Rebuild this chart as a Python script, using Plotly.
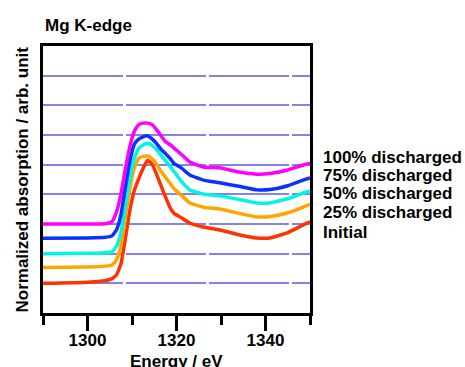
import plotly.graph_objects as go

# ---- data ----
energy = [1290, 1300, 1304, 1305.5, 1306.5, 1307.5, 1308.5, 1309.5, 1310.5, 1311.5,
          1312.5, 1313.5, 1314.5, 1315.5, 1316.5, 1317.5, 1318.5, 1319.5, 1321, 1323,
          1326, 1330, 1334, 1338, 1341, 1345, 1348.5, 1350]

initial = [1.00, 1.04, 1.09, 1.16, 1.28, 1.65, 2.50, 3.45, 4.12, 4.52,
           4.88, 5.15, 5.02, 4.68, 4.30, 3.92, 3.57, 3.35, 3.22, 3.03,
           2.90, 2.79, 2.64, 2.53, 2.53, 2.71, 2.97, 3.07]

dis25 = [1.53, 1.55, 1.58, 1.62, 1.78, 2.28, 3.20, 4.20, 4.88, 5.22,
         5.28, 5.29, 5.20, 5.02, 4.78, 4.58, 4.38, 4.18, 3.98, 3.71,
         3.57, 3.50, 3.36, 3.24, 3.25, 3.38, 3.57, 3.67]

dis50 = [2.00, 2.01, 2.03, 2.06, 2.25, 2.70, 3.60, 4.55, 5.20, 5.55,
         5.66, 5.72, 5.65, 5.52, 5.32, 5.14, 4.95, 4.76, 4.45, 4.15,
         4.01, 3.94, 3.83, 3.71, 3.71, 3.85, 4.05, 4.11]

dis75 = [2.52, 2.53, 2.55, 2.60, 2.80, 3.30, 4.22, 5.10, 5.68, 5.86,
         5.94, 5.97, 5.87, 5.72, 5.52, 5.38, 5.22, 5.03, 4.90, 4.65,
         4.48, 4.38, 4.27, 4.15, 4.16, 4.29, 4.48, 4.55]

dis100 = [3.00, 3.00, 3.01, 3.08, 3.40, 4.00, 4.85, 5.60, 6.12, 6.35,
          6.40, 6.40, 6.35, 6.18, 5.98, 5.78, 5.68, 5.55, 5.36, 5.09,
          4.92, 4.89, 4.75, 4.68, 4.70, 4.82, 4.99, 5.05]

series_names = ["100% discharged", "75% discharged", "50% discharged", "25% discharged", "Initial"]
series_values = [dis100, dis75, dis50, dis25, initial]
series_colors = ["#ff00ff", "#0a32ff", "#00f5e6", "#ffa500", "#ff3300"]

x_ticks = [1300, 1320, 1340]
x_minor = [1290, 1310, 1330, 1350]

title_text = "Mg K-edge"
x_title = "Energy / eV"
y_title = "Normalized absorption / arb. unit"

FONT = "Liberation Sans"

fig = go.Figure()
for name, vals, col in zip(series_names[::-1], series_values[::-1], series_colors[::-1]):
    fig.add_trace(go.Scatter(x=energy, y=vals, mode="lines", name=name,
                             line=dict(color=col, width=3.5, shape="spline", smoothing=0.4),
                             showlegend=False))

fig.update_layout(
    width=465, height=367,
    margin=dict(l=43, r=155, t=46, b=54),
    paper_bgcolor="white", plot_bgcolor="white",
    font=dict(family=FONT, size=17, color="black", weight="bold"),
    xaxis=dict(range=[1290, 1350], tickmode="array", tickvals=x_ticks,
               ticks="outside", ticklen=15, tickwidth=3, tickcolor="black",
               ticklabelstandoff=-5,
               minor=dict(tickmode="array", tickvals=x_minor, ticks="outside",
                          ticklen=9, tickwidth=3, tickcolor="black", showgrid=False),
               showline=True, linewidth=3, linecolor="black", mirror=True,
               showgrid=False, zeroline=False,
               tickfont=dict(family=FONT, size=17, weight="bold")),
    yaxis=dict(range=[0, 9], dtick=1, showticklabels=False, ticks="",
               showline=True, linewidth=3, linecolor="black", mirror=True,
               showgrid=True, gridcolor="rgba(90,90,230,0.75)", gridwidth=1.5,
               griddash="80px,3px", zeroline=False),
)

annotations = []
annotations.append(dict(text=title_text, x=0, y=1, xref="paper", yref="paper",
                        xanchor="left", yanchor="middle", yshift=21, showarrow=False,
                        font=dict(family=FONT, size=17, weight="bold")))
annotations.append(dict(text=x_title, x=0.5, y=0, xref="paper", yref="paper",
                        xanchor="center", yanchor="middle", yshift=-48, showarrow=False,
                        font=dict(family=FONT, size=17, weight="bold")))
annotations.append(dict(text=y_title, x=0, y=0.5, xref="paper", yref="paper",
                        xanchor="center", yanchor="middle", xshift=-21, textangle=-90,
                        showarrow=False, font=dict(family=FONT, size=17, weight="bold")))
label_y = [0.584, 0.515, 0.446, 0.375, 0.30]
for name, ly in zip(series_names, label_y):
    annotations.append(dict(text=name, x=1.04, y=ly, xref="paper", yref="paper",
                            xanchor="left", yanchor="middle", showarrow=False,
                            font=dict(family=FONT, size=17, weight="bold")))
fig.update_layout(annotations=annotations)

fig.write_html("out.html", config={"displayModeBar": False},
               post_script="document.body.style.margin='0';document.body.style.padding='0';")
